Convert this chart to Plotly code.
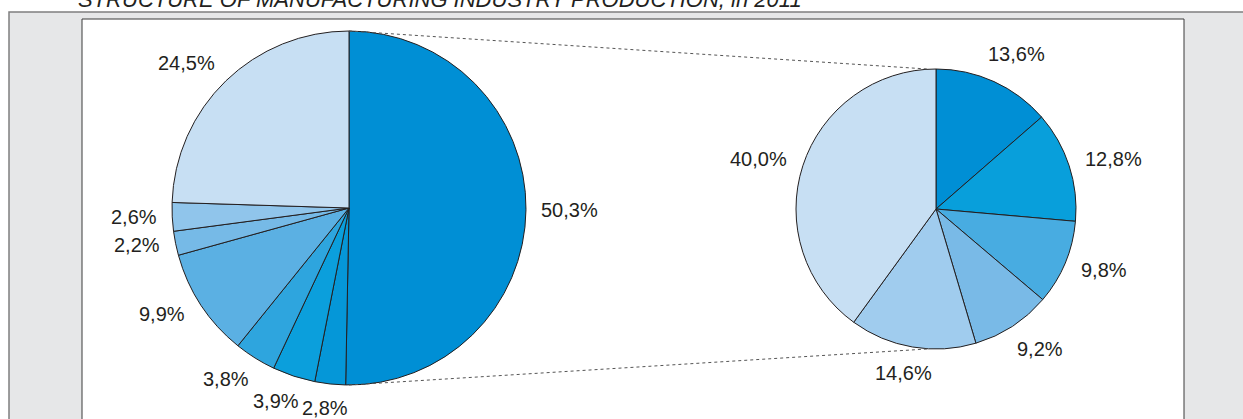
import math
import plotly.graph_objects as go

# ---------------- data ----------------
title_text = "STRUCTURE OF MANUFACTURING INDUSTRY PRODUCTION, in 2011"
left_values = [50.3, 2.8, 3.9, 3.8, 9.9, 2.2, 2.6, 24.5]
left_colors = ["#008fd5", "#0597d8", "#0b9fdc", "#2ea5de", "#5bb0e3", "#76bae7", "#90c5eb", "#c7dff3"]
right_values = [13.6, 12.8, 9.8, 9.2, 14.6, 40.0]
right_colors = ["#008fd5", "#089fdb", "#48ace1", "#79bae7", "#a0ccee", "#c7dff3"]

W, H = 1243, 419
FONT = "Liberation Sans, Arial, sans-serif"
FS = 20
TXT = "#231f20"

# pie geometry (pixels)
L_CX, L_CY, L_R = 349, 208, 177
R_CX, R_CY, R_R = 936, 209, 140


def px(x):
    return x / W


def py(y):
    return 1 - y / H


def fmt(v):
    return f"{v:.1f}".replace(".", ",") + "%"


CHAR_W = {"%": 0.889, ",": 0.278}


def text_w(s):
    return sum(CHAR_W.get(c, 0.556) for c in s) * FS


def domain(cx, cy, r):
    return dict(x=[px(cx - r), px(cx + r)], y=[py(cy + r), py(cy - r)])


fig = go.Figure()
for vals, cols, (cx, cy, r) in [
    (left_values, left_colors, (L_CX, L_CY, L_R)),
    (right_values, right_colors, (R_CX, R_CY, R_R)),
]:
    fig.add_trace(go.Pie(
        values=vals,
        labels=[f"s{i}" for i in range(len(vals))],
        marker=dict(colors=cols, line=dict(color="#231f20", width=1)),
        sort=False, direction="clockwise", rotation=0,
        textinfo="none", hoverinfo="percent",
        domain=domain(cx, cy, r), showlegend=False,
    ))

annotations = []
GAP = 15
PULL = math.radians(4)  # labels lean slightly toward the horizontal
for vals, (cx, cy, r) in [
    (left_values, (L_CX, L_CY, L_R)),
    (right_values, (R_CX, R_CY, R_R)),
]:
    total = sum(vals)
    cum = 0
    for v in vals:
        mid = (cum + v / 2) / total * 2 * math.pi
        cum += v
        mid = mid + PULL * math.sin(2 * mid)
        s = fmt(v)
        hw = text_w(s) / 2
        hh = FS * 0.35
        rr = r + GAP + hw * abs(math.sin(mid)) + hh * abs(math.cos(mid))
        x = cx + rr * math.sin(mid)
        y = cy - rr * math.cos(mid)
        annotations.append(dict(
            x=px(x), y=py(y), xref="paper", yref="paper", text=s,
            showarrow=False, xanchor="center", yanchor="middle",
            font=dict(family=FONT, size=FS, color=TXT),
        ))

annotations.append(dict(
    x=px(76), y=py(-1), xref="paper", yref="paper",
    text=f"<i>{title_text}</i>", showarrow=False,
    xanchor="left", yanchor="middle",
    font=dict(family=FONT, size=22, color=TXT),
))

shapes = [
    # outer grey frame
    dict(type="rect", xref="paper", yref="paper", x0=px(9), x1=px(W + 20),
         y0=py(H + 20), y1=py(12), fillcolor="#e6e7e8",
         line=dict(color="#7f7f7f", width=1.5), layer="below"),
    # inner white panel
    dict(type="rect", xref="paper", yref="paper", x0=px(82), x1=px(1184),
         y0=py(H + 20), y1=py(19), fillcolor="#ffffff",
         line=dict(color="#3a3a3a", width=1), layer="below"),
    # connector lines
    dict(type="line", xref="paper", yref="paper",
         x0=px(L_CX), y0=py(L_CY - L_R), x1=px(R_CX - 9), y1=py(R_CY - R_R),
         line=dict(color="#555555", width=1, dash="dot")),
    dict(type="line", xref="paper", yref="paper",
         x0=px(L_CX), y0=py(L_CY + L_R), x1=px(R_CX - 9), y1=py(R_CY + R_R),
         line=dict(color="#555555", width=1, dash="dot")),
]

fig.update_layout(
    width=W, height=H,
    margin=dict(l=0, r=0, t=0, b=0),
    paper_bgcolor="#ffffff", plot_bgcolor="#ffffff",
    annotations=annotations, shapes=shapes,
    font=dict(family=FONT, color=TXT),
)

fig.write_html(
    "out.html",
    config={"displayModeBar": False},
    post_script="document.body.style.margin='0';document.body.style.overflow='hidden';",
)
